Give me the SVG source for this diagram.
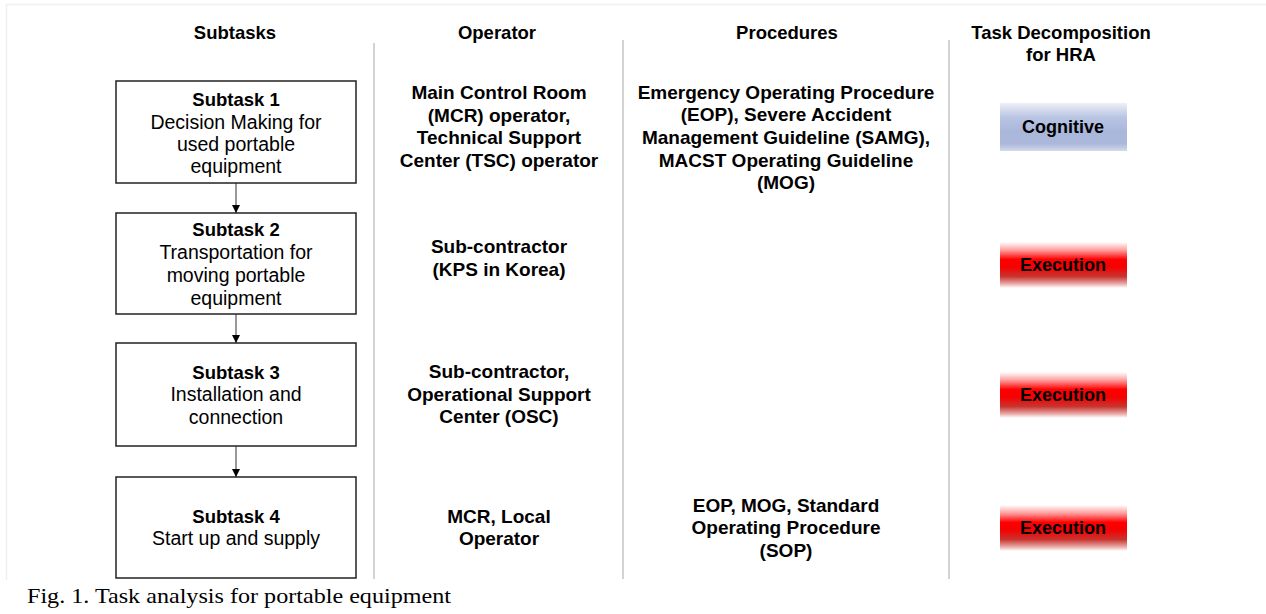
<svg xmlns="http://www.w3.org/2000/svg" width="1266" height="614" viewBox="0 0 1266 614">
<style>
text{font-family:"Liberation Sans",Arial,sans-serif;fill:#000;text-anchor:middle}
.h{font-size:18.5px;font-weight:bold}
.b{font-size:19px;font-weight:bold}
.t{font-size:18.5px;font-weight:bold}
.r{font-size:19.5px}
.x{font-size:18px;font-weight:bold}
.box{fill:#fff;stroke:#222;stroke-width:1.5}
.sep{stroke:#c4c4c4;stroke-width:1.5}
.frame{stroke:#f0f0f0;stroke-width:1.5;fill:none}
.con{stroke:#555;stroke-width:1.2;fill:none}
.cap{font-family:"Liberation Serif","Times New Roman",serif;font-size:21px;text-anchor:start}
</style>
<defs>
<marker id="ah" viewBox="0 0 10 10" refX="10" refY="5" markerWidth="8" markerHeight="8" markerUnits="userSpaceOnUse" orient="auto">
<path d="M0,0 L10,5 L0,10 z" fill="#000"/>
</marker>
<linearGradient id="gCog" x1="0" y1="0" x2="0" y2="1">
<stop offset="0" stop-color="#eef0f8"/>
<stop offset="0.3" stop-color="#b8c4e2"/>
<stop offset="0.6" stop-color="#a9b7db"/>
<stop offset="0.85" stop-color="#abb8da"/>
<stop offset="1" stop-color="#d4daec"/>
</linearGradient>
<linearGradient id="gExe" x1="0" y1="0" x2="0" y2="1">
<stop offset="0" stop-color="#ffffff"/>
<stop offset="0.18" stop-color="#ff9c9c"/>
<stop offset="0.38" stop-color="#ff0000"/>
<stop offset="0.55" stop-color="#f40202"/>
<stop offset="0.75" stop-color="#c8342f"/>
<stop offset="0.9" stop-color="#e6a3a1"/>
<stop offset="1" stop-color="#ffffff"/>
</linearGradient>
</defs>
<path class="frame" d="M6.5,580 V4.5 H1266"/>

<g id="headers">
<text class="h" x="235" y="39">Subtasks</text>
<text class="h" x="497" y="39">Operator</text>
<text class="h" x="787" y="39">Procedures</text>
<text class="h" x="1061" y="39">Task Decomposition</text>
<text class="h" x="1061" y="61">for HRA</text>
</g>

<g id="separators">
<line class="sep" x1="374" y1="43" x2="374" y2="579"/>
<line class="sep" x1="623" y1="40" x2="623" y2="579"/>
<line class="sep" x1="949" y1="40" x2="949" y2="579"/>
</g>

<g id="connectors">
<line class="con" x1="236" y1="183" x2="236" y2="213" marker-end="url(#ah)"/>
<line class="con" x1="236" y1="314" x2="236" y2="343" marker-end="url(#ah)"/>
<line class="con" x1="236" y1="446" x2="236" y2="477" marker-end="url(#ah)"/>
</g>

<g id="subtask1">
<rect class="box" x="116" y="81" width="240" height="102"/>
<text class="t" x="236" y="106">Subtask 1</text>
<text class="r" x="236" y="129">Decision Making for</text>
<text class="r" x="236" y="151">used portable</text>
<text class="r" x="236" y="173">equipment</text>
</g>
<g id="subtask2">
<rect class="box" x="116" y="213" width="240" height="101"/>
<text class="t" x="236" y="236">Subtask 2</text>
<text class="r" x="236" y="259">Transportation for</text>
<text class="r" x="236" y="282">moving portable</text>
<text class="r" x="236" y="305">equipment</text>
</g>
<g id="subtask3">
<rect class="box" x="116" y="343" width="240" height="103"/>
<text class="t" x="236" y="379">Subtask 3</text>
<text class="r" x="236" y="401">Installation and</text>
<text class="r" x="236" y="424">connection</text>
</g>
<g id="subtask4">
<rect class="box" x="116" y="477" width="240" height="101"/>
<text class="t" x="236" y="523">Subtask 4</text>
<text class="r" x="236" y="545">Start up and supply</text>
</g>

<g id="operator1">
<text class="b" x="499" y="99">Main Control Room</text>
<text class="b" x="499" y="122">(MCR) operator,</text>
<text class="b" x="499" y="144">Technical Support</text>
<text class="b" x="499" y="167">Center (TSC) operator</text>
</g>
<g id="operator2">
<text class="b" x="499" y="253">Sub-contractor</text>
<text class="b" x="499" y="276">(KPS in Korea)</text>
</g>
<g id="operator3">
<text class="b" x="499" y="378">Sub-contractor,</text>
<text class="b" x="499" y="401">Operational Support</text>
<text class="b" x="499" y="423">Center (OSC)</text>
</g>
<g id="operator4">
<text class="b" x="499" y="523">MCR, Local</text>
<text class="b" x="499" y="545">Operator</text>
</g>

<g id="procedures1">
<text class="b" x="786" y="99">Emergency Operating Procedure</text>
<text class="b" x="786" y="121">(EOP), Severe Accident</text>
<text class="b" x="786" y="144">Management Guideline (SAMG),</text>
<text class="b" x="786" y="167">MACST Operating Guideline</text>
<text class="b" x="786" y="189">(MOG)</text>
</g>
<g id="procedures4">
<text class="b" x="786" y="512">EOP, MOG, Standard</text>
<text class="b" x="786" y="534">Operating Procedure</text>
<text class="b" x="786" y="557">(SOP)</text>
</g>

<g id="cognitive">
<rect x="1000" y="103" width="127" height="48" fill="url(#gCog)"/>
<text class="x" x="1063" y="133">Cognitive</text>
</g>
<g id="execution2">
<rect x="1000" y="242" width="127" height="46" fill="url(#gExe)"/>
<text class="x" x="1063" y="271">Execution</text>
</g>
<g id="execution3">
<rect x="1000" y="372" width="127" height="46" fill="url(#gExe)"/>
<text class="x" x="1063" y="401">Execution</text>
</g>
<g id="execution4">
<rect x="1000" y="505" width="127" height="46" fill="url(#gExe)"/>
<text class="x" x="1063" y="534">Execution</text>
</g>

<text class="cap" x="27" y="603" textLength="424" lengthAdjust="spacingAndGlyphs">Fig. 1. Task analysis for portable equipment</text>
</svg>
